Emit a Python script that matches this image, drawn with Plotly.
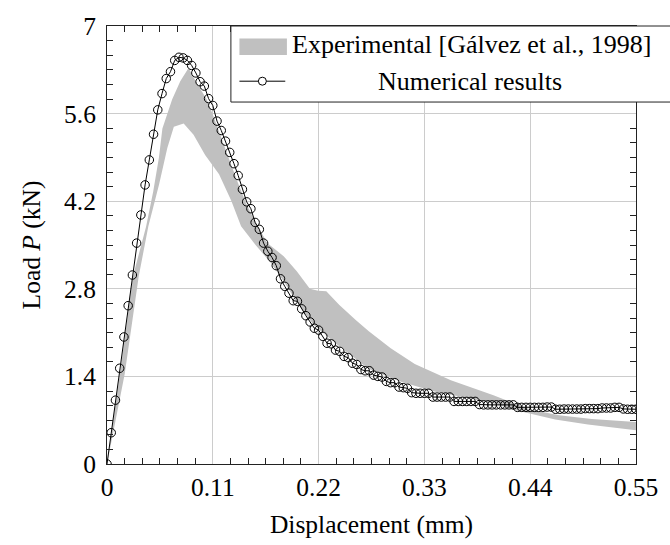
import plotly.graph_objects as go

# Numerical load-displacement response (constant displacement increment)
disp_step = 0.0044
num_load = [
    0.00, 0.50, 1.02, 1.53, 2.03, 2.53, 3.02, 3.53, 3.98, 4.46,
    4.86, 5.27, 5.66, 5.92, 6.16, 6.27, 6.45, 6.50, 6.49, 6.45,
    6.37, 6.25, 6.11, 6.04, 5.84, 5.73, 5.48, 5.33, 5.16, 4.98,
    4.80, 4.61, 4.39, 4.19, 4.08, 3.86, 3.75, 3.53, 3.40, 3.30,
    3.17, 2.96, 2.84, 2.73, 2.61, 2.60, 2.48, 2.37, 2.27, 2.17,
    2.14, 2.04, 1.93, 1.92, 1.82, 1.80, 1.72, 1.70, 1.61, 1.59,
    1.51, 1.49, 1.49, 1.42, 1.40, 1.39, 1.32, 1.30, 1.30, 1.23,
    1.22, 1.21, 1.14, 1.13, 1.13, 1.13, 1.13, 1.07, 1.07, 1.07,
    1.07, 1.07, 1.00, 1.00, 1.00, 1.00, 1.00, 1.00, 0.95, 0.945,
    0.945, 0.945, 0.945, 0.945, 0.945, 0.945, 0.945, 0.905, 0.905, 0.905,
    0.905, 0.905, 0.905, 0.905, 0.91, 0.91, 0.875, 0.875, 0.878, 0.878,
    0.878, 0.878, 0.878, 0.885, 0.885, 0.885, 0.885, 0.895, 0.895, 0.895,
    0.905, 0.905, 0.88, 0.875, 0.875, 0.875,
]
num_disp = [round(i * disp_step, 4) for i in range(len(num_load))]

# Experimental envelope: upper and lower bounding curves
exp_upper_x = [0.0, 0.0135, 0.027, 0.0406, 0.048, 0.054, 0.0576, 0.0678, 0.0763,
               0.0848, 0.0933, 0.1036, 0.1104, 0.1189, 0.1275, 0.136, 0.145,
               0.155, 0.1666, 0.1837, 0.1973, 0.2109, 0.2195, 0.228, 0.2416,
               0.2586, 0.2722, 0.295, 0.32, 0.3575, 0.3813, 0.4018, 0.44,
               0.47, 0.504, 0.55]
exp_upper_y = [0.0, 1.45, 3.0, 3.79, 4.35, 4.9, 5.36, 5.83, 6.12,
               6.33, 6.09, 5.83, 5.57, 5.20, 4.85, 4.50, 4.15,
               3.85, 3.53, 3.32, 3.08, 2.80, 2.77, 2.76, 2.54,
               2.30, 2.12, 1.85, 1.60, 1.34, 1.21, 1.10, 0.87,
               0.78, 0.72, 0.67]
exp_lower_x = [0.0, 0.0184, 0.033, 0.043, 0.0542, 0.0627, 0.0695, 0.0797, 0.09,
               0.102, 0.1165, 0.1291, 0.1394, 0.1545, 0.17, 0.1837, 0.2,
               0.215, 0.2382, 0.2722, 0.3064, 0.3404, 0.3745, 0.4018, 0.425,
               0.44, 0.466, 0.50, 0.55]
exp_lower_y = [0.0, 1.44, 3.0, 3.8, 4.47, 5.05, 5.39, 5.44, 5.26,
               4.94, 4.63, 4.21, 3.80, 3.50, 3.22, 2.92, 2.52,
               2.22, 1.92, 1.52, 1.31, 1.16, 1.05, 0.97, 0.86,
               0.80, 0.71, 0.63, 0.54]

x_ticks = [0, 0.11, 0.22, 0.33, 0.44, 0.55]
x_tick_labels = ["0", "0.11", "0.22", "0.33", "0.44", "0.55"]
y_ticks = [0, 1.4, 2.8, 4.2, 5.6, 7]
y_tick_labels = ["0", "1.4", "2.8", "4.2", "5.6", "7"]

exp_label = "Experimental [Gálvez et al., 1998]"
num_label = "Numerical results"

FONT = "Liberation Serif"
BAND = "#c0c0c0"
GRID = "#cccccc"
FRAME = "#222222"

fig = go.Figure()

fig.add_trace(go.Scatter(
    x=exp_upper_x + exp_lower_x[::-1],
    y=exp_upper_y + exp_lower_y[::-1],
    fill="toself", fillcolor=BAND, mode="lines",
    line=dict(width=0, color=BAND), hoverinfo="skip", showlegend=False,
))

fig.add_trace(go.Scatter(
    x=num_disp, y=num_load, mode="lines+markers",
    line=dict(color="black", width=1),
    marker=dict(symbol="circle-open", size=8.5, color="black",
                line=dict(width=1, color="black")),
    showlegend=False,
))

axis_common = dict(
    showline=True, linecolor=FRAME, linewidth=1, mirror="allticks",
    showgrid=True, gridcolor=GRID, gridwidth=1,
    ticks="inside", ticklen=8, tickcolor=GRID, tickwidth=1,
    zeroline=False,
    tickfont=dict(family=FONT, size=25.5, color="black"),
)

fig.update_xaxes(
    range=[0, 0.55], tickmode="array", tickvals=x_ticks, ticktext=x_tick_labels,
    minor=dict(dtick=0.11 / 6, tick0=0, ticks="inside", ticklen=6,
               tickcolor=FRAME, tickwidth=1, showgrid=False),
    title=dict(text="Displacement (mm)", font=dict(family=FONT, size=25.5, color="black"),
               standoff=14),
    **axis_common,
)
fig.update_yaxes(
    range=[0, 7], tickmode="array", tickvals=y_ticks, ticktext=y_tick_labels,
    minor=dict(dtick=1.4 / 6, tick0=0, ticks="inside", ticklen=6,
               tickcolor=FRAME, tickwidth=1, showgrid=False),
    title=dict(text="Load <i>P</i> (kN)", font=dict(family=FONT, size=25.5, color="black"),
               standoff=16),
    ticklabelstandoff=5,
    **axis_common,
)

# Legend box drawn in paper coordinates
shapes = [
    dict(type="rect", xref="paper", yref="paper", x0=0.2342, x1=1.1, y0=0.8264, y1=1.0,
         fillcolor="white", line=dict(color=FRAME, width=1), layer="above"),
    dict(type="rect", xref="paper", yref="paper", x0=0.2503, x1=0.3401, y0=0.934, y1=0.9713,
         fillcolor=BAND, line=dict(width=0), layer="above"),
    dict(type="line", xref="paper", yref="paper", x0=0.2503, x1=0.3370, y0=0.874, y1=0.874,
         line=dict(color="black", width=1), layer="above"),
    dict(type="circle", xref="paper", yref="paper", xsizemode="pixel", ysizemode="pixel",
         xanchor=0.2937, yanchor=0.874, x0=-4, x1=4, y0=-4, y1=4,
         fillcolor="white", line=dict(color="black", width=1), layer="above"),
]
annotations = [
    dict(text=exp_label, xref="paper", yref="paper", x=0.3457, y=0.9586,
         xanchor="left", yanchor="middle", showarrow=False,
         font=dict(family=FONT, size=26, color="black")),
    dict(text=num_label, xref="paper", yref="paper", x=0.686, y=0.874,
         xanchor="center", yanchor="middle", showarrow=False,
         font=dict(family=FONT, size=26, color="black")),
]

fig.update_layout(
    width=670, height=545,
    margin=dict(l=107, r=25, t=25, b=73, pad=0),
    plot_bgcolor="white", paper_bgcolor="white",
    shapes=shapes, annotations=annotations,
    showlegend=False,
    font=dict(family=FONT, color="black"),
)

fig.write_html("out.html")
